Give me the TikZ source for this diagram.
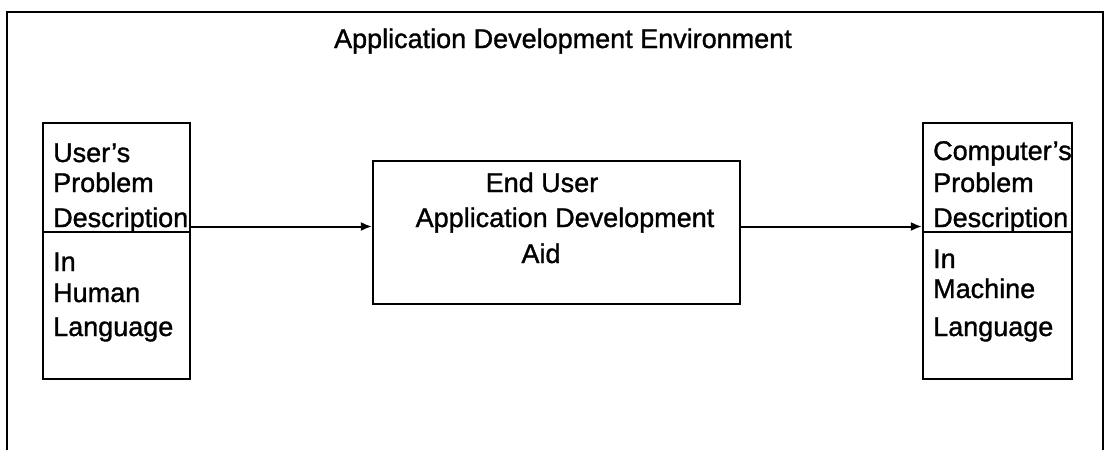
\documentclass[tikz,border=0pt]{standalone}
\usepackage{fontspec}
\setmainfont{Liberation Sans}
\newfontfamily\lblfont{Liberation Sans}[Ligatures=TeX,FakeBold=1.2]
\usetikzlibrary{arrows.meta}
\begin{document}
\begin{tikzpicture}[x=1pt,y=-1pt,
  frame/.style={line width=2pt},
  box/.style={draw,line width=2.2pt,inner sep=0pt},
  lbl/.style={anchor=base west,inner sep=0pt,font=\lblfont\fontsize{27}{33}\selectfont},
  clbl/.style={anchor=base,inner sep=0pt,font=\lblfont\fontsize{27}{33}\selectfont},
  arr/.style={line width=2pt,-{Latex[length=11pt,width=9pt]}}]
\useasboundingbox (0,0) rectangle (1109,450);

% open frame of the environment
\draw[frame] (7,452) -- (7,12) -- (1103,12) -- (1103,452);
\node[clbl] (title) at (563,48) {Application Development Environment};

% user's side
\node[box,minimum width=147pt,minimum height=256pt] (user) at (116.5,251) {};
\draw[line width=2.2pt] (user.west |- 0,232) -- (user.east |- 0,232);
\node[lbl] (u1) at (53,162) {User’s};
\node[lbl] (u2) at (53,192) {Problem};
\node[lbl] (u3) at (53,227) {Description};
\node[lbl] (u4) at (53,271) {In};
\node[lbl] (u5) at (53,302) {Human};
\node[lbl] (u6) at (53,336) {Language};

% development aid
\node[box,minimum width=367pt,minimum height=143pt] (aid) at (556.5,232.5) {};
\node[clbl] (a1) at (542,192) {End User};
\node[clbl] (a2) at (565,227) {Application Development};
\node[clbl] (a3) at (541,263) {Aid};

% computer's side
\node[box,minimum width=149pt,minimum height=256pt] (comp) at (997.5,251) {};
\draw[line width=2.2pt] (comp.west |- 0,232) -- (comp.east |- 0,232);
\node[lbl] (c1) at (933,160) {Computer’s};
\node[lbl] (c2) at (933,192) {Problem};
\node[lbl] (c3) at (933,227) {Description};
\node[lbl] (c4) at (933,268) {In};
\node[lbl] (c5) at (933,298) {Machine};
\node[lbl] (c6) at (933,336) {Language};

% flow
\draw[arr] ([yshift=6pt]user.east |- aid.west) -- ([yshift=6pt]aid.west);
\draw[arr] ([yshift=6pt]aid.east) -- ([yshift=6pt]comp.west |- aid.east);
\end{tikzpicture}
\end{document}
